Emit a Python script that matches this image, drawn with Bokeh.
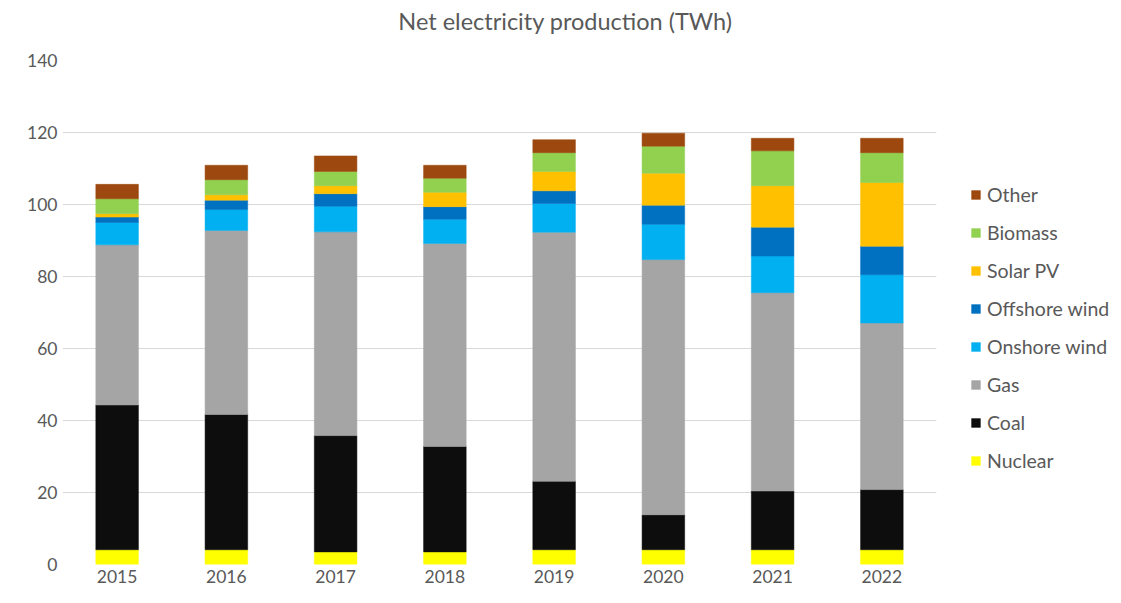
from bokeh.plotting import figure
from bokeh.models import ColumnDataSource, Legend, LegendItem, FixedTicker, Label
from bokeh.embed import file_html
from bokeh.resources import INLINE

years = ["2015", "2016", "2017", "2018", "2019", "2020", "2021", "2022"]
nuclear = [4.1, 4.1, 3.5, 3.5, 4.1, 4.1, 4.1, 4.1]
coal = [40.2, 37.6, 32.3, 29.3, 19.0, 9.7, 16.3, 16.7]
gas = [44.5, 51.1, 56.6, 56.4, 69.2, 70.9, 55.1, 46.3]
onshore_wind = [6.2, 5.8, 7.1, 6.7, 8.0, 9.8, 10.2, 13.4]
offshore_wind = [1.5, 2.6, 3.5, 3.5, 3.5, 5.3, 8.0, 7.9]
solar_pv = [0.9, 1.5, 2.2, 4.0, 5.4, 8.9, 11.5, 17.7]
biomass = [4.2, 4.2, 4.0, 3.9, 5.2, 7.5, 9.7, 8.3]
other = [4.0, 4.0, 4.3, 3.6, 3.6, 3.6, 3.5, 4.0]

series_names = ["Nuclear", "Coal", "Gas", "Onshore wind", "Offshore wind", "Solar PV", "Biomass", "Other"]
series_values = [nuclear, coal, gas, onshore_wind, offshore_wind, solar_pv, biomass, other]
colors = ["#FFFF00", "#0D0D0D", "#A5A5A5", "#00B0F0", "#0070C0", "#FFC000", "#92D050", "#9C480E"]
y_ticks = [0, 20, 40, 60, 80, 100, 120, 140]
title_text = "Net electricity production (TWh)"

FONT = "Lato"
TXT = "#595959"
FW, FH = 874, 504

data = {"year": years}
for n, v in zip(series_names, series_values):
    data[n] = v
source = ColumnDataSource(data)

p = figure(x_range=years, y_range=(0, 140), frame_width=FW, frame_height=FH,
           min_border_left=62, min_border_right=175, min_border_top=60, min_border_bottom=31,
           output_backend="svg", toolbar_location=None, tools="")
p.outline_line_color = None
p.background_fill_color = "white"
p.border_fill_color = "white"

renderers = p.vbar_stack(series_names, x="year", width=0.39, color=colors, line_color=colors,
                         line_width=0.5, source=source)

p.x_range.range_padding = 0

p.yaxis.ticker = FixedTicker(ticks=y_ticks)
for ax in (p.xaxis[0], p.yaxis[0]):
    ax.axis_line_color = None
    ax.major_tick_line_color = None
    ax.minor_tick_line_color = None
    ax.major_tick_out = 0
    ax.major_tick_in = 0
    ax.major_label_text_font = FONT
    ax.major_label_text_font_size = "17.5px"
    ax.major_label_text_color = TXT
p.yaxis.major_label_standoff = 5
p.xaxis.major_label_standoff = 5

p.xgrid.grid_line_color = None
p.ygrid.grid_line_color = "#D9D9D9"
p.ygrid.grid_line_width = 1

title = Label(x=503, y=40, x_units="screen", y_units="screen", text=title_text,
              text_align="center", text_baseline="middle",
              text_font=FONT, text_font_size="23.5px", text_color=TXT)
p.add_layout(title, "above")

items = [LegendItem(label=n, renderers=[r]) for n, r in zip(series_names, renderers)][::-1]
legend = Legend(items=items, location=(34, 92), orientation="vertical",
                glyph_width=11, glyph_height=11, label_height=21, spacing=15,
                label_standoff=6, padding=0, margin=0,
                label_text_font=FONT, label_text_font_size="19.5px", label_text_color=TXT,
                border_line_color=None, background_fill_alpha=0)
p.add_layout(legend, "right")

open("out.html", "w").write(file_html(p, INLINE))
